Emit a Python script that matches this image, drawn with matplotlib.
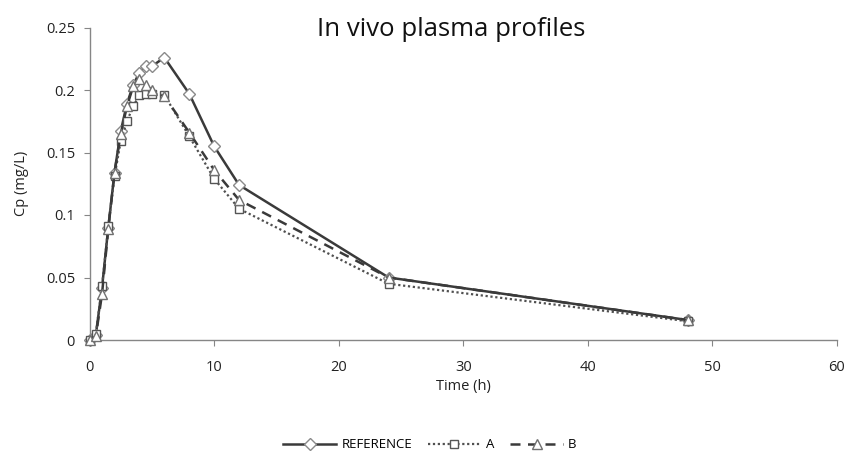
import matplotlib
matplotlib.use("Agg")
import matplotlib.pyplot as plt
from matplotlib.ticker import FuncFormatter

plt.rcParams['font.family'] = ['Open Sans', 'DejaVu Sans']

time_h = [0, 0.5, 1, 1.5, 2, 2.5, 3, 3.5, 4, 4.5, 5, 6, 8, 10, 12, 24, 48]
reference = [0, 0.004, 0.042, 0.090, 0.134, 0.167, 0.189, 0.204, 0.214, 0.219, 0.219, 0.226, 0.197, 0.155, 0.124, 0.050, 0.016]
series_a = [0, 0.005, 0.043, 0.091, 0.131, 0.159, 0.175, 0.187, 0.196, 0.197, 0.197, 0.196, 0.163, 0.129, 0.105, 0.045, 0.015]
series_b = [0, 0.003, 0.037, 0.089, 0.134, 0.165, 0.187, 0.203, 0.209, 0.204, 0.200, 0.195, 0.166, 0.136, 0.112, 0.050, 0.016]
x_ticks = [0, 10, 20, 30, 40, 50, 60]
y_ticks = [0, 0.05, 0.1, 0.15, 0.2, 0.25]

fig = plt.figure(figsize=(8.45, 4.53), dpi=100)
ax = fig.add_axes([89.6/845, 1-340/453, (837-89.6)/845, (340-27.5)/453])

lc = '#3a3a3a'
mk = '#555555'
ax.plot(time_h, reference, color=lc, lw=1.8, ls='-', marker='D', ms=6,
        mfc='white', mec='#8a8a8a', mew=1.0, label='REFERENCE', zorder=3, clip_on=False)
ax.plot(time_h, series_a, color='#505050', lw=1.6, ls=(0, (1, 1.2)), marker='s', ms=6,
        mfc='white', mec=mk, mew=1.0, label='A', zorder=3, clip_on=False)
ax.plot(time_h, series_b, color=lc, lw=1.8, ls=(0, (4, 3)), marker='^', ms=6.5,
        mfc='white', mec='#707070', mew=1.0, label='B', zorder=3, clip_on=False)

ax.set_xlim(0, 60)
ax.set_ylim(0, 0.25)
ax.set_xticks(x_ticks)
ax.set_yticks(y_ticks)
ax.yaxis.set_major_formatter(FuncFormatter(lambda v, p: ('%g' % round(v, 3))))
for s in ['top', 'right']:
    ax.spines[s].set_visible(False)
for s in ['left', 'bottom']:
    ax.spines[s].set_color('#868686')
    ax.spines[s].set_linewidth(1.0)
ax.tick_params(direction='out', length=4.5, color='#868686', labelsize=10.5, labelcolor='#222222')
ax.tick_params(axis='x', pad=10)
ax.tick_params(axis='y', pad=6)

ax.set_xlabel('Time (h)', fontsize=10.5, color='#222222', labelpad=3)
ax.set_ylabel('Cp (mg/L)', fontsize=10.5, color='#222222', labelpad=12)
fig.text(451/845, 1-30/453, 'In vivo plasma profiles', ha='center', va='center', fontsize=18.5, color='#111111')

fig.legend(loc='center', bbox_to_anchor=(430/845, 1-445/453), ncol=3, frameon=False,
           fontsize=9.5, handlelength=4, columnspacing=1.2, handletextpad=0.4)

fig.savefig('out.png', dpi=100)
